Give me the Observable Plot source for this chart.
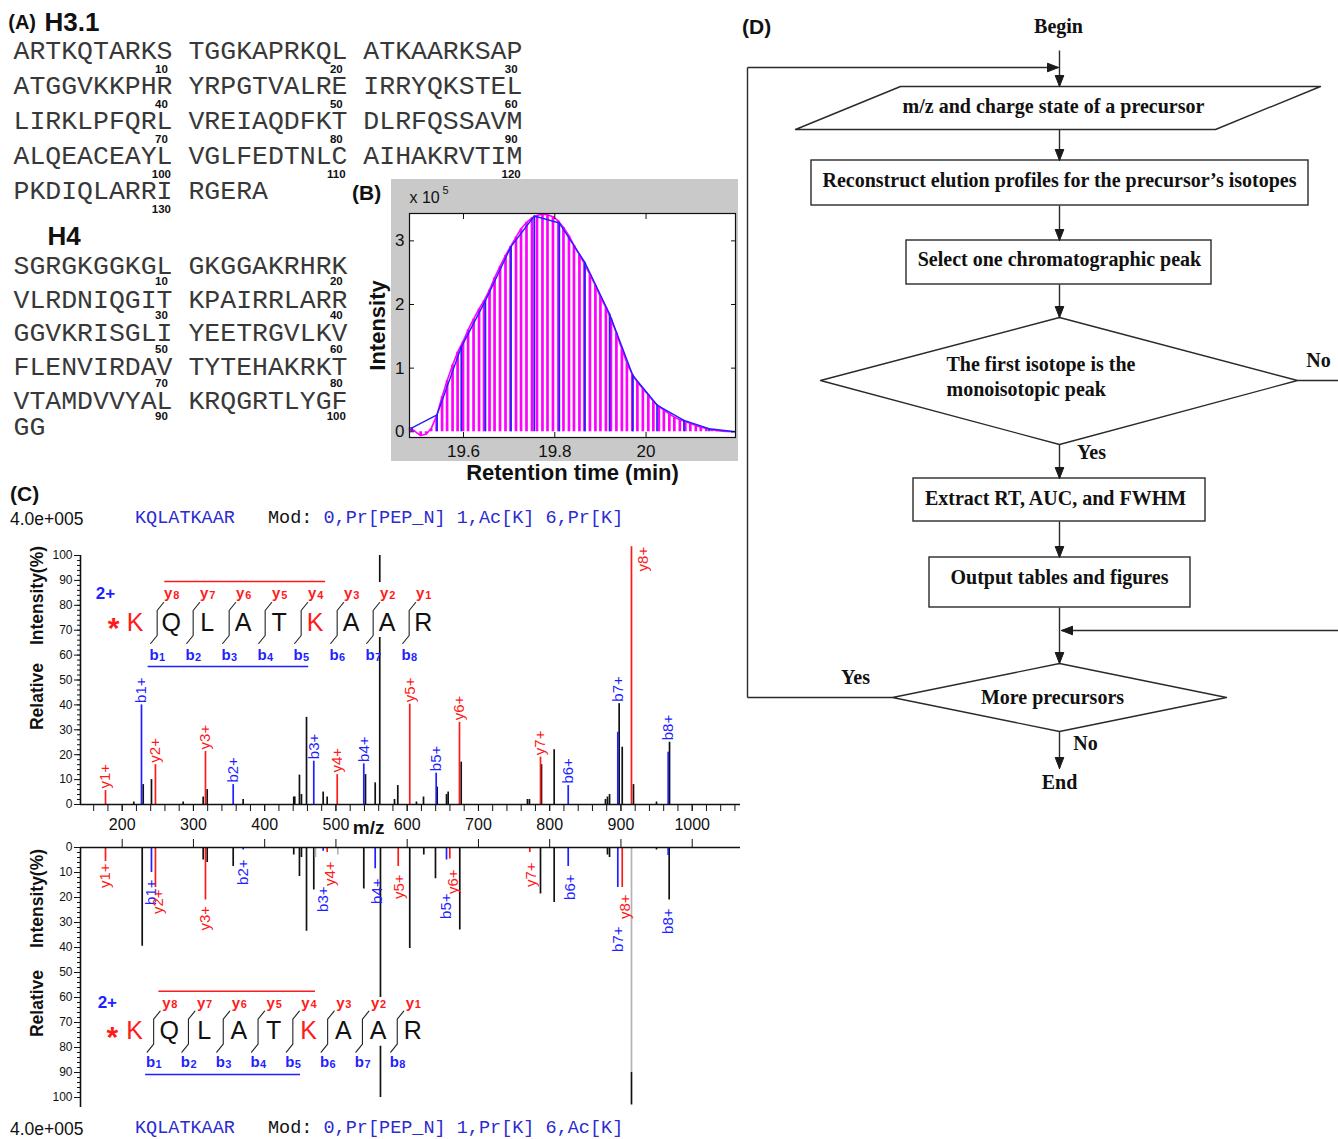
<!DOCTYPE html>
<html>
<head>
<meta charset="utf-8">
<script src="https://cdn.jsdelivr.net/npm/d3@7"></script>
<script src="https://cdn.jsdelivr.net/npm/@observablehq/plot@0.6"></script>
<style>
  html,body{margin:0;padding:0;background:#fff;}
  #page{position:relative;width:1338px;height:1139px;overflow:hidden;background:#fff;}
  #page svg{position:absolute;overflow:visible;}
  .lbl{position:absolute;white-space:pre;color:#111;}
</style>
</head>
<body>
<div id="page"></div>
<script>
// ================= DATA =================
// (A) histone sequences
const h31Rows = ["ARTKQTARKS TGGKAPRKQL ATKAARKSAP", "ATGGVKKPHR YRPGTVALRE IRRYQKSTEL", "LIRKLPFQRL VREIAQDFKT DLRFQSSAVM", "ALQEACEAYL VGLFEDTNLC AIHAKRVTIM", "PKDIQLARRI RGERA"];
const h31Numbers = [[10, 20, 30], [40, 50, 60], [70, 80, 90], [100, 110, 120], [130]];
const h4Rows = ["SGRGKGGKGL GKGGAKRHRK", "VLRDNIQGIT KPAIRRLARR", "GGVKRISGLI YEETRGVLKV", "FLENVIRDAV TYTEHAKRKT", "VTAMDVVYAL KRQGRTLYGF", "GG"];
const h4Numbers = [[10, 20], [30, 40], [50, 60], [70, 80], [90, 100], []];

// (B) elution profile (intensity x 1e5)
const rtInterp = [19.483,19.495,19.506,19.518,19.529,19.541,19.553,19.564,19.576,19.587,19.599,19.610,19.622,19.634,19.645,19.657,19.668,19.680,19.692,19.703,19.715,19.726,19.738,19.750,19.761,19.773,19.784,19.796,19.808,19.819,19.831,19.842,19.854,19.865,19.877,19.889,19.900,19.912,19.923,19.935,19.947,19.958,19.970,19.981,19.993,20.005,20.016,20.028,20.039,20.051,20.062,20.074,20.086,20.097,20.109,20.120,20.132,20.144,20.155,20.167,20.178,20.190];
const intInterp = [0.06,0.0,-0.06,-0.04,0.05,0.25,0.55,0.8,1.05,1.25,1.42,1.6,1.77,1.93,2.06,2.23,2.42,2.6,2.77,2.91,3.06,3.19,3.29,3.36,3.40,3.42,3.41,3.38,3.31,3.21,3.08,2.93,2.78,2.64,2.47,2.3,2.12,1.95,1.78,1.55,1.3,1.08,0.9,0.78,0.68,0.58,0.48,0.4,0.34,0.28,0.23,0.19,0.16,0.13,0.1,0.07,0.05,0.03,0.02,0.01,0.005,0];
const rtScan = [19.487, 19.542, 19.595, 19.648, 19.704, 19.755, 19.810, 19.866, 19.920, 19.971, 20.024, 20.083, 20.138, 20.196];
const intScan = [0.063, 0.267, 1.33, 2.06, 2.91, 3.39, 3.28, 2.66, 1.85, 0.885, 0.42, 0.18, 0.047, 0];
const rtTicks = [19.6, 19.8, 20];
const intTicks = [0, 1, 2, 3];

// (C) annotated mirror spectrum: [m/z, relative intensity %, kind]
const peptide = "KQLATKAAR";
const baseIntensity = "4.0e+005";
const topMods = "0,Pr[PEP_N] 1,Ac[K] 6,Pr[K]";
const bottomMods = "0,Pr[PEP_N] 1,Pr[K] 6,Ac[K]";
const topPeaks = [[176.6,5.6,"r"],[216.3,1,"k"],[227.1,40,"b"],[229.5,8,"k"],[241.1,10,"k"],[246.7,16,"r"],[285.6,1,"k"],[313.7,3,"k"],[316.9,21.3,"r"],[319.3,6,"k"],[355.8,8,"b"],[369.8,2,"k"],[440.8,3,"k"],[442.2,3,"k"],[448.8,11.8,"k"],[451.6,4,"k"],[458.7,35,"k"],[468.9,17.4,"b"],[482.1,5,"k"],[487.7,3,"k"],[501.8,12,"r"],[539.1,16.3,"b"],[541.5,12,"k"],[555.1,8.7,"k"],[561.5,100,"k"],[582.2,2,"k"],[586.8,7.6,"k"],[603.6,40.3,"r"],[613,1,"k"],[622.9,3,"k"],[640.7,12.6,"b"],[642.1,7,"k"],[655.2,4,"k"],[657.5,5,"k"],[673.4,33,"r"],[675.8,17,"k"],[768.8,2,"k"],[771.6,2,"k"],[787.1,19,"r"],[788.5,16,"k"],[806.3,22,"k"],[826,7.6,"b"],[878.3,2,"k"],[881.1,3,"k"],[884,4,"k"],[895.6,29,"b"],[897.5,40.5,"k"],[901.8,23,"k"],[914.8,103.5,"r"],[917.6,8,"k"],[949.9,1,"k"],[966.3,21,"b"],[968.2,25,"k"]];
const bottomPeaks = [[176.6,5.6,"r"],[228.1,39.5,"k"],[241.1,10,"b"],[246.7,16,"r"],[313.7,5,"k"],[316.9,21,"r"],[319.3,6,"k"],[355.8,7.6,"k"],[369.8,1,"b"],[440.8,3,"k"],[448.8,11.6,"k"],[451.6,4,"k"],[458.7,33.5,"k"],[468.9,17,"k"],[471.3,4,"g"],[482.1,1.5,"b"],[487.7,2,"r"],[502.6,3,"g"],[539.1,16.6,"k"],[555.1,8.5,"b"],[562.5,100,"k"],[587.4,7.6,"r"],[603.6,40.4,"k"],[623.3,3,"k"],[639.7,12.5,"k"],[655.2,5,"b"],[659.8,4.6,"r"],[673.8,33,"k"],[772.1,2,"r"],[787.1,18.6,"k"],[806.3,22,"k"],[826,7.6,"b"],[881.1,3,"k"],[884,4,"k"],[895.6,16,"b"],[901.8,16,"r"],[914.8,90,"g"],[914.8,103,"k",90],[949.9,1,"k"],[966.3,3.2,"b"],[967.7,21,"k"]];
// [label, m/z, height % where label starts, kind]
const topLabels = [["y1+",176.6,5.6,"r"],["b1+",227.1,40,"b"],["y2+",246.7,16,"r"],["y3+",316.9,21.3,"r"],["b2+",355.8,8,"b"],["b3+",468.9,17.4,"b"],["y4+",501.8,12,"r"],["b4+",539.1,16.3,"b"],["y5+",603.6,40.3,"r"],["b5+",640.7,12.6,"b"],["y6+",673.4,33,"r"],["y7+",787.1,19,"r"],["b6+",826,7.6,"b"],["b7+",895.6,40.5,"b"],["b8+",966.3,25,"b"]];
const topSideLabels = [["y8+",914.8,103.5,"r"]];
const bottomLabels = [["y1+",176.6,6,"r"],["b1+",241.1,12.4,"b"],["y2+",251,16.4,"r"],["y3+",316.9,23,"r"],["b2+",369.8,4.4,"b"],["b3+",482.1,15.2,"b"],["y4+",492.3,5.2,"r"],["b4+",557.9,12,"b"],["y5+",589,10.4,"r"],["b5+",655.2,18,"b"],["y6+",664.6,8.4,"r"],["y7+",774.4,5.6,"r"],["b6+",829,10.4,"b"],["b7+",896.6,31.2,"b"],["y8+",906.5,18.4,"r"],["b8+",966.7,24,"b"]];
const seqLetters = ["K","Q","L","A","T","K","A","A","R"];
const modSites = [0, 5];
const yIons = ["y8","y7","y6","y5","y4","y3","y2","y1"];
const bIons = ["b1","b2","b3","b4","b5","b6","b7","b8"];
const mzTicks = [200, 300, 400, 500, 600, 700, 800, 900, 1000];
const relTicks = [0, 10, 20, 30, 40, 50, 60, 70, 80, 90, 100];

// (D) flowchart text
const flowTexts = [
  {t: "Begin", x: 1058, y: 26},
  {t: "m/z and charge state of a precursor", x: 1053, y: 106},
  {t: "Reconstruct elution profiles for the precursor\u2019s isotopes", x: 1059, y: 180},
  {t: "Select one chromatographic peak", x: 1059, y: 259},
  {t: "No", x: 1318, y: 360},
  {t: "Yes", x: 1091, y: 452},
  {t: "Extract RT, AUC, and FWHM", x: 1055, y: 498},
  {t: "Output tables and figures", x: 1059, y: 577},
  {t: "Yes", x: 855, y: 677},
  {t: "More precursors", x: 1052, y: 697},
  {t: "No", x: 1085, y: 743},
  {t: "End", x: 1059, y: 782}
];
const flowTextsLeft = [
  {t: "The first isotope is the", x: 946, y: 364},
  {t: "monoisotopic peak", x: 946, y: 389}
];

// ================= LAYOUT / STYLE =================
const SANS = "'Liberation Sans', Arial, sans-serif";
const MONO = "'Liberation Mono', 'Courier New', monospace";
const SERIF = "'Liberation Serif', 'Times New Roman', serif";
const RED = "#ff1a1a", BLUE = "#1f1fff", HBLUE = "#2b2bd0";
const ionColor = {r: RED, b: BLUE, k: "#111", g: "#b4b4b4"};
const page = document.getElementById("page");
function put(node, left, top) { node.style.position = "absolute"; node.style.left = left + "px"; node.style.top = top + "px"; page.appendChild(node); return node; }
function addText(html, left, top, css) { const d = document.createElement("div"); d.className = "lbl"; d.innerHTML = html; d.style.cssText += `left:${left}px;top:${top}px;${css}`; page.appendChild(d); }
const baseStyle = {background: "transparent", overflow: "visible", fontFamily: SANS, color: "#111"};

// ================= (A) =================
{
  const CW = 15.9; // monospace character width
  const seq = [
    ...h31Rows.map((t, r) => ({t, line: r})),
    ...h4Rows.map((t, r) => ({t, line: r < 5 ? 6.14 + 0.965 * r : 10.73}))
  ];
  const nums = [
    ...h31Numbers.flatMap((ns, r) => ns.map((n, b) => ({t: String(n), col: b * 11 + 9.3, line: r + 0.53}))),
    ...h4Numbers.flatMap((ns, r) => ns.map((n, b) => ({t: String(n), col: b * 11 + 9.3, line: 6.14 + 0.965 * r + 0.46})))
  ];
  const svg = Plot.plot({
    width: 545, height: 445, margin: 0,
    x: {type: "linear", domain: [0, 34], range: [13, 13 + 34 * CW], axis: null},
    y: {type: "linear", domain: [0, 12], range: [50, 50 + 12 * 35], axis: null},
    style: baseStyle,
    marks: [
      Plot.text(seq, {x: 0, y: "line", text: "t", textAnchor: "start", fontFamily: MONO, fontSize: 26.5, fill: "#383838"}),
      Plot.text(nums, {x: "col", y: "line", text: "t", fontFamily: SANS, fontSize: 11.5, fontWeight: "bold", fill: "#111"}),
      Plot.text(["(A)"], {x: -0.33, y: -0.8, textAnchor: "start", fontSize: 20, fontWeight: "bold", fill: "#111"}),
      Plot.text(["H3.1"], {x: 1.95, y: -0.8, textAnchor: "start", fontSize: 26, fontWeight: "bold", fill: "#111"}),
      Plot.text(["H4"], {x: 2.14, y: 5.31, textAnchor: "start", fontSize: 26, fontWeight: "bold", fill: "#111"})
    ]
  });
  put(svg, 0, 0);
}

// ================= (B) =================
{
  const bg = document.createElement("div");
  bg.style.cssText = "background:#c9c9c9;width:347px;height:282px;";
  put(bg, 391, 179);
  addText("(B)", 352, 182, `font:bold 21px/22px ${SANS};`);
  const interp = rtInterp.map((rt, i) => ({rt, v: intInterp[i]}));
  const scan = rtScan.map((rt, i) => ({rt, v: intScan[i]}));
  const svg = Plot.plot({
    width: 390, height: 315, marginLeft: 54, marginRight: 10, marginTop: 38, marginBottom: 53,
    x: {domain: [19.4816, 20.196], axis: null},
    y: {domain: [-0.09, 3.43], axis: null},
    style: baseStyle,
    marks: [
      Plot.frame({fill: "white", stroke: null}),
      Plot.ruleX(interp, {x: "rt", y1: 0, y2: "v", stroke: "#ff00ff", strokeWidth: 2.7}),
      Plot.line(interp, {x: "rt", y: "v", stroke: "#ff00ff", strokeWidth: 1.6}),
      Plot.ruleX(scan, {x: "rt", y1: 0, y2: "v", stroke: "#2020ff", strokeWidth: 1.7}),
      Plot.line(scan, {x: "rt", y: "v", stroke: "#2020ff", strokeWidth: 1.4}),
      Plot.axisX(rtTicks, {anchor: "bottom", tickSize: -5, tickPadding: 12, tickFormat: d => String(d), fontSize: 17, label: null}),
      Plot.axisX(rtTicks, {anchor: "top", tickSize: -5, fill: "none", label: null}),
      Plot.axisY(intTicks, {anchor: "left", tickSize: -5, tickPadding: 10, tickFormat: d => String(d), fontSize: 17, label: null}),
      Plot.axisY(intTicks, {anchor: "right", tickSize: -5, fill: "none", label: null}),
      Plot.frame({stroke: "#111", strokeWidth: 1.2}),
      Plot.text(["Intensity"], {frameAnchor: "left", dx: -32, rotate: -90, textAnchor: "middle", lineAnchor: "middle", fontSize: 22, fontWeight: "bold"}),
      Plot.text(["Retention time (min)"], {frameAnchor: "bottom", dy: 35, textAnchor: "middle", lineAnchor: "middle", fontSize: 22, fontWeight: "bold"}),
      Plot.text(["x 10"], {frameAnchor: "top-left", dx: 0, dy: -16, textAnchor: "start", lineAnchor: "middle", fontSize: 16}),
      Plot.text(["5"], {frameAnchor: "top-left", dx: 33, dy: -23, textAnchor: "start", lineAnchor: "middle", fontSize: 11})
    ]
  });
  put(svg, 355, 175);
}

// ================= (C) =================
{
  addText("(C)", 10, 483, `font:bold 21px/22px ${SANS};`);
  const mono = `font:18.5px/20px ${MONO};`;
  const header = (top, mods) => {
    addText(baseIntensity, 10, top, `font:17.5px/20px ${SANS};`);
    addText(`<span style="color:${HBLUE}">${peptide}</span>`, 135, top, mono);
    addText(`Mod: <span style="color:${HBLUE}">${mods}</span>`, 268, top, mono);
  };
  header(509, topMods);
  header(1119, bottomMods);

  const order = p => (p[2] === "k" || p[2] === "g") ? 0 : 1;
  const sortPeaks = ps => ps.slice().sort((a, b) => order(a) - order(b));
  const xDom = [141.5, 1067.8];
  const stems = (peaks) => Plot.ruleX(sortPeaks(peaks), {x: d => d[0], y1: d => d[3] ?? 0, y2: d => d[1], stroke: d => ionColor[d[2]], strokeWidth: 1.7});
  const yTitle = (t, dy) => Plot.text([t], {frameAnchor: "top-left", dx: -43, dy, rotate: -90, textAnchor: "middle", lineAnchor: "middle", fontSize: 17.5, fontWeight: "bold"});
  // top spectrum
  const topSvg = Plot.plot({
    width: 745, height: 300, marginLeft: 80, marginRight: 5, marginTop: 15, marginBottom: 36,
    x: {domain: xDom, axis: null}, y: {domain: [0, 100], axis: null},
    color: {type: "identity"},
    style: baseStyle,
    marks: [
      stems(topPeaks),
      Plot.ruleX([xDom[0]], {y1: 0, y2: 100, stroke: "#111", strokeWidth: 1.6}),
      Plot.ruleY([0], {stroke: "#111", strokeWidth: 1.6}),
      Plot.axisY(d3.range(0, 101, 2), {anchor: "left", tickSize: 3, fill: "none", label: null}),
      Plot.axisY(relTicks, {anchor: "left", tickSize: 6, tickPadding: 2, fontSize: 12, label: null}),
      Plot.axisX(d3.range(160, 1061, 20), {anchor: "bottom", tickSize: 7, fill: "none", label: null}),
      Plot.axisX(mzTicks, {anchor: "bottom", tickSize: 7, tickPadding: 7, fontSize: 16, tickFormat: d => String(d), label: null}),
      Plot.text(["m/z"], {x: 546, y: 0, dy: 23, fontSize: 19, fontWeight: "bold"}),
      Plot.text(topLabels, {x: d => d[1], y: d => d[2], text: d => d[0], rotate: -90, textAnchor: "start", dy: -2, fill: d => ionColor[d[3]], fontSize: 15}),
      Plot.text(topSideLabels, {x: d => d[1], y: d => d[2], text: d => d[0], rotate: -90, textAnchor: "end", dx: 12, fill: d => ionColor[d[3]], fontSize: 15}),
      yTitle("Intensity(%)", 40),
      yTitle("Relative", 141)
    ]
  });
  put(topSvg, 0, 540);
  // bottom (mirrored) spectrum
  const botSvg = Plot.plot({
    width: 745, height: 280, marginLeft: 80, marginRight: 5, marginTop: 7, marginBottom: 23,
    x: {domain: xDom, axis: null}, y: {domain: [0, 100], reverse: true, axis: null},
    color: {type: "identity"},
    style: baseStyle,
    marks: [
      stems(bottomPeaks),
      Plot.ruleX([xDom[0]], {y1: 0, y2: 104, stroke: "#111", strokeWidth: 1.6}),
      Plot.ruleY([0], {stroke: "#111", strokeWidth: 1.6}),
      Plot.axisY(d3.range(0, 101, 2), {anchor: "left", tickSize: 3, fill: "none", label: null}),
      Plot.axisY(relTicks, {anchor: "left", tickSize: 6, tickPadding: 2, fontSize: 12, label: null}),
      Plot.axisX(mzTicks, {anchor: "top", tickSize: 9, fill: "none", label: null}),
      Plot.text(bottomLabels, {x: d => d[1], y: d => d[2], text: d => d[0], rotate: -90, textAnchor: "end", dy: 1, fill: d => ionColor[d[3]], fontSize: 15}),
      yTitle("Intensity(%)", 51),
      yTitle("Relative", 156)
    ]
  });
  put(botSvg, 0, 840);

  // fragment-ion annotation (opaque white backdrop, as in the original)
  function annotation(c) {
    const W = 400, H = 110, h = 6.5 / c.step;
    const seps = [];
    for (let i = 1; i < seqLetters.length; i++) {
      const s = i - c.sepOff;
      seps.push({id: i, x: s - h, y: c.letterRow + 21}, {id: i, x: s, y: c.letterRow + 13}, {id: i, x: s, y: c.letterRow - 12}, {id: i, x: s + h, y: c.letterRow - 20});
    }
    const svg = Plot.plot({
      width: W, height: H, margin: 0,
      x: {type: "linear", domain: [0, 8], range: [c.x0 - c.left, c.x0 + 8 * c.step - c.left], axis: null},
      y: {type: "linear", domain: [0, H], range: [0, H], axis: null},
      color: {type: "identity"},
      style: baseStyle,
      marks: [
        Plot.rect([0], {x1: 5.7, x2: 8.5, y1: c.backTop, y2: c.letterRow + 15, fill: "white"}),
        Plot.ruleY([c.redRow], {x1: c.redSpan[0], x2: c.redSpan[1], stroke: RED, strokeWidth: 1.6}),
        Plot.ruleY([c.blueRow], {x1: c.blueSpan[0], x2: c.blueSpan[1], stroke: BLUE, strokeWidth: 1.6}),
        Plot.line(seps, {x: "x", y: "y", z: "id", stroke: "#222", strokeWidth: 1.1}),
        Plot.text(seqLetters, {x: (d, i) => i, y: c.letterRow, text: d => d, fill: (d, i) => modSites.includes(i) ? RED : "#111", fontSize: 25}),
        Plot.text(yIons, {x: (d, i) => i + 1, y: c.yRow, text: d => d[0], dx: -3, fill: RED, fontSize: 15, fontWeight: "bold"}),
        Plot.text(yIons, {x: (d, i) => i + 1, y: c.yRow, text: d => d.slice(1), dx: 5, dy: 1.5, fill: RED, fontSize: 11, fontWeight: "bold"}),
        Plot.text(bIons, {x: (d, i) => i + 1 - c.sepOff, y: c.bRow, text: d => d[0], dx: -3, fill: BLUE, fontSize: 15, fontWeight: "bold"}),
        Plot.text(bIons, {x: (d, i) => i + 1 - c.sepOff, y: c.bRow, text: d => d.slice(1), dx: 5, dy: 2, fill: BLUE, fontSize: 11, fontWeight: "bold"}),
        Plot.text(["2+"], {x: c.chargeX, y: c.yRow, fill: BLUE, fontSize: 17, fontWeight: "bold"}),
        Plot.text(["*"], {x: c.starX, y: c.letterRow, dy: 6, fill: RED, fontSize: 30, fontWeight: "bold"})
      ]
    });
    put(svg, c.left, c.top);
  }
  annotation({left: 90, top: 570, x0: 134.7, step: 36, sepOff: 0.39, yRow: 23, letterRow: 52, bRow: 85, redRow: 11, blueRow: 96, backTop: 12, redSpan: [0.82, 5.29], blueSpan: [0.36, 4.82], chargeX: -0.825, starX: -0.6});
  annotation({left: 90, top: 980, x0: 134, step: 34.8, sepOff: 0.45, yRow: 22.3, letterRow: 50.7, bRow: 81.7, redRow: 10.7, blueRow: 94, backTop: 17, redSpan: [0.70, 5.2], blueSpan: [0.32, 4.77], chargeX: -0.78, starX: -0.64});
}

// ================= (D) =================
{
  addText("(D)", 742, 16, `font:bold 21px/22px ${SANS};`);
  const shapes = [
    {id: "input", pts: [[900, 86], [1320, 86], [1215, 129], [795, 129]]},
    {id: "check", pts: [[1059, 317], [1297, 380], [1059, 444], [820, 380]]},
    {id: "more", pts: [[1059, 663], [1226, 697], [1059, 731], [892, 697]]}
  ];
  const shapePts = shapes.flatMap(s => [...s.pts, s.pts[0]].map(([x, y]) => ({id: s.id, x, y})));
  const boxes = [
    {x1: 811, y1: 160, x2: 1308, y2: 205},
    {x1: 906, y1: 240, x2: 1211, y2: 284},
    {x1: 913, y1: 478, x2: 1205, y2: 521},
    {x1: 929, y1: 557, x2: 1190, y2: 607}
  ];
  const links = [
    {x1: 1059, y1: 50, x2: 1059, y2: 86, head: true},
    {x1: 747, y1: 67, x2: 1058, y2: 67, head: true},
    {x1: 747, y1: 67, x2: 747, y2: 697},
    {x1: 747, y1: 697, x2: 892, y2: 697},
    {x1: 1059, y1: 129, x2: 1059, y2: 160, head: true},
    {x1: 1059, y1: 205, x2: 1059, y2: 240, head: true},
    {x1: 1059, y1: 284, x2: 1059, y2: 317, head: true},
    {x1: 1297, y1: 380, x2: 1340, y2: 380},
    {x1: 1059, y1: 444, x2: 1059, y2: 478, head: true},
    {x1: 1059, y1: 521, x2: 1059, y2: 557, head: true},
    {x1: 1059, y1: 607, x2: 1059, y2: 663, head: true},
    {x1: 1340, y1: 630, x2: 1061, y2: 630, head: true},
    {x1: 1059, y1: 731, x2: 1059, y2: 768, head: true}
  ];
  const heads = [];
  links.filter(l => l.head).forEach((l, k) => {
    const dx = l.x2 - l.x1, dy = l.y2 - l.y1, L = Math.hypot(dx, dy), ux = dx / L, uy = dy / L;
    const bx = l.x2 - ux * 11, by = l.y2 - uy * 11;
    heads.push({id: k, x: l.x2, y: l.y2}, {id: k, x: bx - uy * 4.3, y: by + ux * 4.3}, {id: k, x: bx + uy * 4.3, y: by - ux * 4.3}, {id: k, x: l.x2, y: l.y2});
  });
  const flowFont = {fontFamily: SERIF, fontWeight: "bold", fontSize: 20, fill: "#111"};
  const svg = Plot.plot({
    width: 598, height: 800, margin: 0,
    x: {type: "linear", domain: [740, 1338], range: [0, 598], axis: null},
    y: {type: "linear", domain: [0, 800], range: [0, 800], axis: null},
    style: baseStyle,
    marks: [
      Plot.link(links, {x1: "x1", y1: "y1", x2: "x2", y2: "y2", stroke: "#2a2a2a", strokeWidth: 1.4}),
      Plot.line(shapePts, {x: "x", y: "y", z: "id", fill: "white", stroke: "#2a2a2a", strokeWidth: 1.4}),
      Plot.rect(boxes, {x1: "x1", y1: "y1", x2: "x2", y2: "y2", fill: "white", stroke: "#2a2a2a", strokeWidth: 1.4}),
      Plot.line(heads, {x: "x", y: "y", z: "id", fill: "#1a1a1a", stroke: "#1a1a1a", strokeWidth: 1}),
      Plot.text(flowTexts, {x: "x", y: "y", text: "t", textAnchor: "middle", ...flowFont}),
      Plot.text(flowTextsLeft, {x: "x", y: "y", text: "t", textAnchor: "start", ...flowFont})
    ]
  });
  put(svg, 740, 0);
}
</script>
</body>
</html>
